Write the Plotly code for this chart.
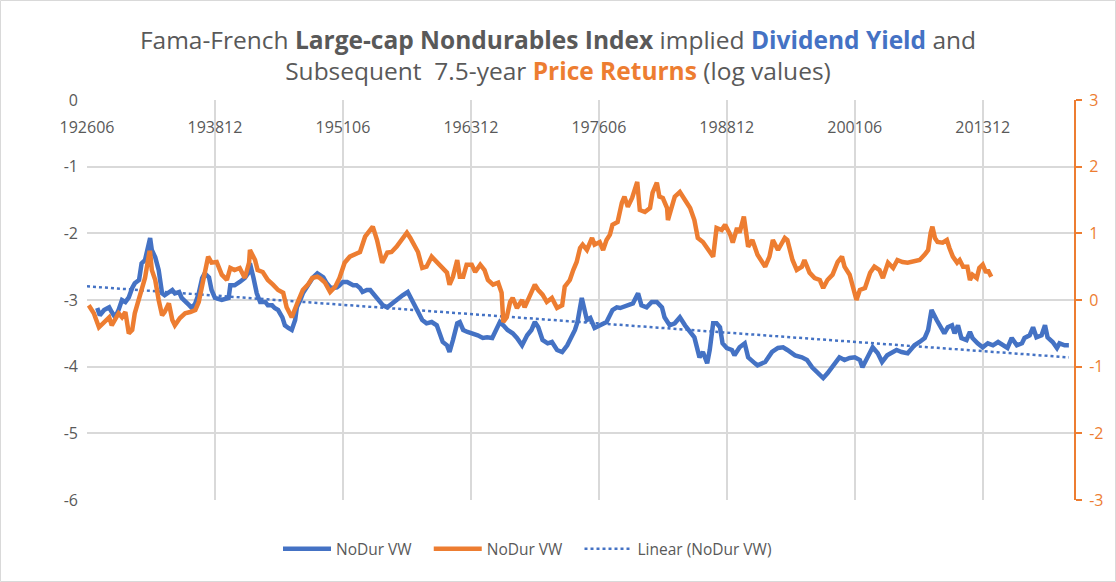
import numpy as np
import plotly.graph_objects as go

# ---- data (month offset from 1926-06, log values) ----
tick_months = [0, 150, 300, 450, 600, 750, 900, 1050]
tick_labels = ["192606", "193812", "195106", "196312", "197606", "198812", "200106", "201312"]

dy_months = [12, 15, 20, 26, 29, 33, 37, 41, 45, 49, 53, 56, 61, 64, 68, 73, 74, 76, 80, 84,
             88, 91, 96, 100, 103, 108, 111, 115, 120, 123, 127, 131, 135, 138, 143, 146, 150, 158, 166, 168,
             173, 179, 185, 190, 191, 195, 199, 203, 209, 212, 217, 220, 224, 229, 232, 236, 240, 244, 246, 250,
             253, 259, 265, 270, 273, 277, 281, 285, 288, 293, 296, 300, 305, 308, 312, 316, 320, 323, 328, 332,
             335, 340, 343, 347, 352, 355, 359, 364, 370, 376, 381, 384, 388, 393, 398, 404, 410, 414, 417, 422,
             425, 429, 434, 437, 441, 446, 452, 458, 464, 469, 475, 480, 484, 488, 493, 499, 504, 510, 516, 521,
             525, 529, 534, 540, 545, 551, 557, 563, 568, 572, 575, 580, 586, 590, 595, 601, 609, 616, 621, 625,
             633, 640, 646, 650, 656, 662, 668, 674, 677, 683, 689, 695, 701, 707, 712, 718, 722, 727, 730, 734,
             738, 742, 745, 750, 756, 759, 765, 771, 775, 783, 786, 795, 803, 810, 816, 821, 830, 838, 844, 850,
             855, 863, 868, 877, 882, 888, 894, 900, 906, 909, 915, 921, 927, 932, 938, 943, 949, 955, 962, 968,
             970, 976, 982, 986, 990, 996, 1002, 1005, 1009, 1014, 1017, 1021, 1025, 1031, 1035, 1038, 1044, 1050, 1056, 1062,
             1068, 1073, 1079, 1084, 1090, 1096, 1099, 1105, 1109, 1113, 1119, 1123, 1126, 1132, 1137, 1140, 1146, 1151]
dy_values = [-3.12, -3.23, -3.15, -3.11, -3.18, -3.26, -3.15, -3.00, -3.03, -2.96, -2.82, -2.75, -2.70, -2.45, -2.40, -2.10, -2.07, -2.25, -2.36, -2.55,
             -2.90, -2.93, -2.88, -2.85, -2.90, -2.88, -2.97, -3.03, -3.08, -3.12, -3.05, -2.90, -2.67, -2.60, -2.66, -2.85, -2.97, -3.00, -2.97, -2.78,
             -2.78, -2.73, -2.67, -2.58, -2.45, -2.66, -2.90, -3.03, -3.03, -3.08, -3.08, -3.12, -3.15, -3.26, -3.38, -3.42, -3.45, -3.30, -3.11, -3.00,
             -2.90, -2.78, -2.66, -2.60, -2.63, -2.66, -2.75, -2.81, -2.82, -2.81, -2.78, -2.73, -2.73, -2.75, -2.78, -2.78, -2.82, -2.88, -2.85, -2.85,
             -2.90, -2.96, -3.03, -3.08, -3.11, -3.08, -3.03, -2.97, -2.93, -2.88, -3.00, -3.08, -3.15, -3.30, -3.35, -3.33, -3.38, -3.50, -3.63, -3.68,
             -3.78, -3.60, -3.35, -3.33, -3.45, -3.48, -3.50, -3.53, -3.57, -3.56, -3.57, -3.42, -3.33, -3.38, -3.45, -3.50, -3.57, -3.68, -3.53, -3.45,
             -3.33, -3.41, -3.60, -3.65, -3.63, -3.75, -3.78, -3.68, -3.56, -3.45, -3.33, -2.97, -3.30, -3.27, -3.42, -3.38, -3.33, -3.15, -3.11, -3.12,
             -3.08, -3.05, -2.90, -3.08, -3.11, -3.03, -3.03, -3.11, -3.26, -3.38, -3.35, -3.26, -3.38, -3.48, -3.56, -3.86, -3.78, -3.95, -3.75, -3.35,
             -3.35, -3.41, -3.65, -3.72, -3.75, -3.83, -3.71, -3.65, -3.86, -3.95, -3.98, -3.93, -3.78, -3.72, -3.71, -3.75, -3.83, -3.86, -3.90, -4.01,
             -4.08, -4.17, -4.10, -3.95, -3.86, -3.90, -3.87, -3.86, -3.90, -4.01, -3.86, -3.71, -3.80, -3.93, -3.83, -3.80, -3.75, -3.78, -3.80, -3.71,
             -3.68, -3.63, -3.57, -3.45, -3.15, -3.30, -3.42, -3.50, -3.41, -3.38, -3.50, -3.38, -3.57, -3.60, -3.48, -3.57, -3.65, -3.71, -3.65, -3.68,
             -3.63, -3.68, -3.72, -3.57, -3.68, -3.65, -3.57, -3.53, -3.41, -3.56, -3.53, -3.38, -3.56, -3.63, -3.72, -3.65, -3.68, -3.68]

ret_months = [2, 8, 14, 20, 26, 29, 33, 37, 41, 45, 49, 53, 56, 61, 64, 68, 73, 74, 76, 80,
              84, 88, 91, 96, 100, 103, 109, 115, 121, 127, 131, 135, 138, 142, 146, 152, 158, 164, 168, 173,
              179, 185, 190, 191, 197, 200, 206, 212, 218, 224, 230, 234, 240, 244, 247, 253, 259, 264, 270, 273,
              279, 285, 291, 296, 302, 308, 314, 320, 326, 332, 335, 340, 346, 352, 357, 363, 369, 375, 379, 384,
              388, 393, 398, 404, 410, 416, 422, 425, 429, 434, 437, 441, 445, 451, 455, 461, 466, 470, 476, 482,
              486, 488, 492, 496, 499, 504, 510, 513, 519, 525, 529, 534, 539, 545, 551, 557, 560, 566, 570, 574,
              578, 581, 586, 592, 595, 601, 605, 609, 613, 616, 622, 627, 630, 634, 639, 642, 645, 648, 654, 660,
              663, 668, 671, 675, 680, 681, 686, 689, 695, 701, 707, 712, 716, 722, 728, 734, 738, 744, 748, 754,
              757, 762, 765, 770, 775, 780, 786, 795, 800, 804, 810, 818, 821, 827, 832, 838, 841, 847, 853, 859,
              863, 868, 874, 880, 885, 888, 894, 898, 902, 906, 912, 918, 923, 929, 933, 939, 945, 950, 956, 962,
              968, 976, 982, 986, 989, 991, 994, 997, 1003, 1008, 1011, 1015, 1020, 1023, 1027, 1032, 1035, 1038, 1043, 1046,
              1050, 1054, 1056, 1060]
ret_values = [-0.08, -0.20, -0.41, -0.33, -0.26, -0.38, -0.30, -0.20, -0.26, -0.18, -0.50, -0.45, -0.20, 0.00, 0.12, 0.33, 0.71, 0.71, 0.45, 0.30,
              0.00, -0.23, -0.18, -0.05, -0.30, -0.38, -0.27, -0.20, -0.18, -0.15, -0.03, 0.20, 0.42, 0.65, 0.56, 0.57, 0.38, 0.30, 0.48, 0.45,
              0.48, 0.33, 0.56, 0.75, 0.60, 0.45, 0.42, 0.30, 0.23, 0.15, 0.11, -0.11, -0.26, -0.15, -0.03, 0.15, 0.23, 0.33, 0.35, 0.33,
              0.26, 0.12, 0.20, 0.33, 0.56, 0.65, 0.68, 0.72, 0.95, 1.05, 1.10, 0.90, 0.56, 0.71, 0.72, 0.80, 0.90, 1.01, 0.93, 0.83,
              0.72, 0.48, 0.50, 0.65, 0.57, 0.48, 0.41, 0.23, 0.35, 0.60, 0.35, 0.35, 0.53, 0.53, 0.42, 0.53, 0.45, 0.30, 0.23, 0.26,
              0.11, -0.33, -0.26, -0.03, 0.03, -0.12, 0.00, -0.11, 0.08, 0.23, 0.15, 0.08, -0.03, 0.03, -0.12, -0.08, 0.20, 0.30, 0.45, 0.57,
              0.78, 0.83, 0.75, 0.93, 0.83, 0.87, 0.75, 0.90, 0.98, 1.13, 1.17, 1.46, 1.55, 1.40, 1.53, 1.65, 1.77, 1.35, 1.32, 1.38,
              1.61, 1.76, 1.55, 1.53, 1.38, 1.20, 1.43, 1.55, 1.62, 1.50, 1.38, 1.20, 0.93, 0.87, 0.75, 0.65, 1.08, 1.05, 1.13, 0.98,
              0.86, 1.08, 1.01, 1.25, 0.80, 0.90, 0.68, 0.50, 0.65, 0.90, 0.75, 0.93, 0.90, 0.60, 0.45, 0.50, 0.60, 0.41, 0.33, 0.30,
              0.18, 0.30, 0.38, 0.57, 0.65, 0.50, 0.38, 0.18, 0.00, 0.15, 0.18, 0.41, 0.50, 0.45, 0.33, 0.56, 0.48, 0.60, 0.57, 0.56,
              0.57, 0.60, 0.68, 0.75, 1.01, 1.10, 0.93, 0.87, 0.86, 0.90, 0.78, 0.65, 0.56, 0.60, 0.50, 0.50, 0.30, 0.38, 0.33, 0.48,
              0.53, 0.41, 0.45, 0.35]

last_month = 1157

# ---- styling ----
BLUE = "#4472C4"
ORANGE = "#ED7D31"
GRAY = "#595959"
GRID = "#D9D9D9"
FONT = "Open Sans"
PAD = "\u00a0\u00a0\u00a0"

# linear trendline of the dividend-yield series
coef = np.polyfit(dy_months, dy_values, 1)
trend_x = np.array([0, dy_months[-1]])
trend_y = np.polyval(coef, trend_x)

fig = go.Figure()
fig.add_trace(go.Scatter(x=dy_months, y=dy_values, mode="lines", name="NoDur VW" + PAD,
                         line=dict(color=BLUE, width=4.5)))
fig.add_trace(go.Scatter(x=ret_months, y=ret_values, mode="lines", name="NoDur VW" + PAD,
                         line=dict(color=ORANGE, width=4.5), yaxis="y2"))
fig.add_trace(go.Scatter(x=trend_x, y=trend_y, mode="lines", name="Linear (NoDur VW)",
                         line=dict(color=BLUE, width=2.5, dash="dot")))

title_text = (
    "Fama-French <b>Large-cap Nondurables Index</b> implied "
    f"<b><span style='color:{BLUE}'>Dividend Yield</span></b> and<br>"
    "Subsequent  7.5-year "
    f"<b><span style='color:{ORANGE}'>Price Returns</span></b> (log values)"
)

left_vals = [0, -1, -2, -3, -4, -5, -6]
right_vals = [3, 2, 1, 0, -1, -2, -3]

fig.update_layout(
    width=1116, height=582,
    paper_bgcolor="white", plot_bgcolor="white",
    margin=dict(l=87, r=42, t=100, b=82),
    font=dict(family=FONT, color=GRAY, size=16),
    title=dict(text=title_text, x=0.5, xanchor="center", yref="container",
               y=1 - 48.5 / 582, yanchor="middle",
               font=dict(family=FONT, size=24.5, color=GRAY)),
    showlegend=True,
    legend=dict(orientation="h", x=0.5 - 53 / 987, xanchor="center", y=-0.123, yanchor="middle",
                font=dict(family=FONT, size=15.5, color=GRAY), itemwidth=48,
                traceorder="normal"),
    xaxis=dict(range=[0, last_month], anchor="free", position=1, side="bottom",
               tickmode="array", tickvals=tick_months, ticktext=tick_labels,
               ticklabelstandoff=16,
               showgrid=True, gridcolor=GRID, gridwidth=2,
               showline=False, zeroline=False, ticks="",
               tickfont=dict(family=FONT, size=16, color=GRAY)),
    yaxis=dict(range=[-6, 0], tickmode="array", tickvals=left_vals,
               ticktext=[str(v) for v in left_vals],
               showgrid=True, gridcolor=GRID, gridwidth=2, zeroline=False,
               showline=False, ticks="", ticklabelstandoff=8,
               tickfont=dict(family=FONT, size=16, color=GRAY)),
    yaxis2=dict(range=[-3, 3], overlaying="y", side="right", tickmode="array",
                tickvals=right_vals, ticktext=[str(v) for v in right_vals],
                showgrid=False, zeroline=False, showline=True,
                linecolor=ORANGE, linewidth=2, ticks="outside", ticklen=6,
                tickcolor=ORANGE, tickwidth=2, ticklabelstandoff=4,
                tickfont=dict(family=FONT, size=16, color=ORANGE)),
    shapes=[dict(type="rect", xref="paper", yref="paper",
                 x0=-86.5 / 987, x1=1 + 41.5 / 987, y0=-81.5 / 400, y1=1 + 99.5 / 400,
                 line=dict(color=GRID, width=1), fillcolor="rgba(0,0,0,0)", layer="below")],
)

fig.write_html("out.html", config={"displayModeBar": False})

# remove the browser's default page margin so the chart sits at the window origin
with open("out.html", "r", encoding="utf-8") as f:
    html = f.read()
html = html.replace("<head>", "<head><style>html,body{margin:0;padding:0;}</style>", 1)
with open("out.html", "w", encoding="utf-8") as f:
    f.write(html)
